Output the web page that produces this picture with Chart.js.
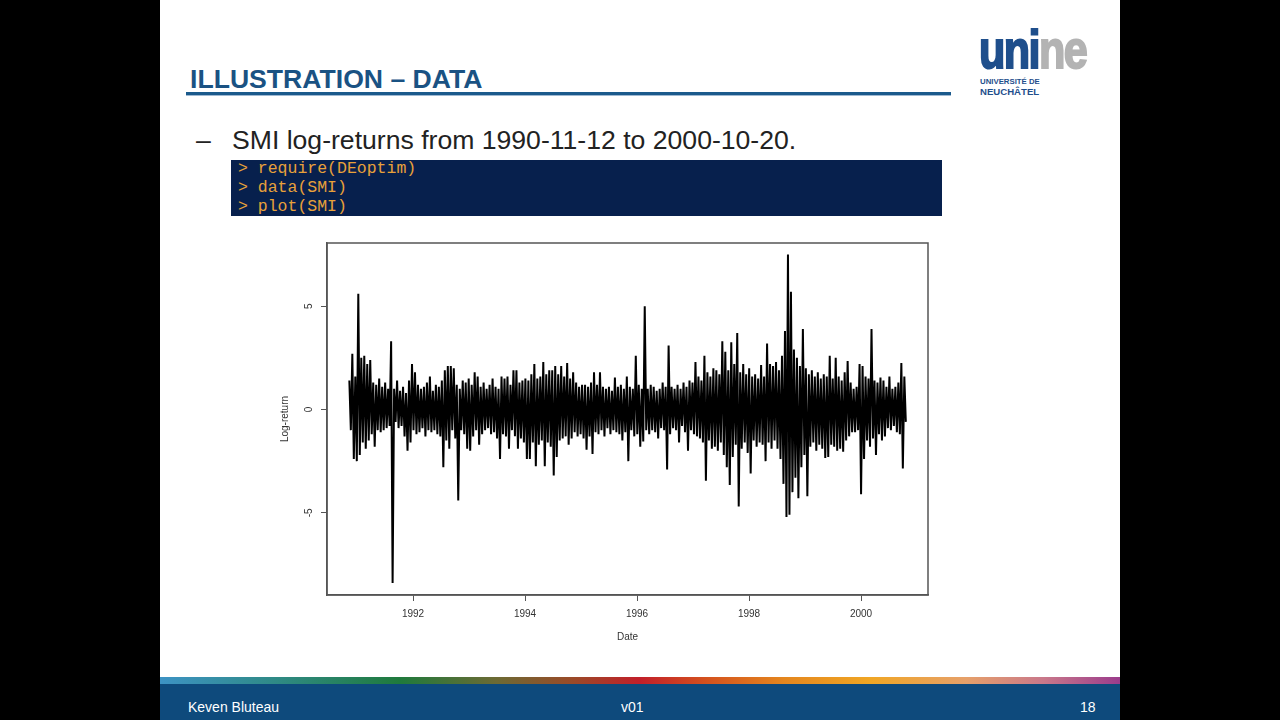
<!DOCTYPE html>
<html>
<head>
<meta charset="utf-8">
<script src="https://cdn.jsdelivr.net/npm/chart.js@4.4.0/dist/chart.umd.min.js"></script>
<style>
  body { margin: 0; width: 1280px; height: 720px; background: #000; overflow: hidden; font-family: "Liberation Sans", Arial, sans-serif; }
  .slide { position: absolute; left: 160px; top: 0; width: 960px; height: 720px; background: #fff; }
  .abs { position: absolute; white-space: nowrap; }
  #title { left: 190px; top: 66px; font-size: 26.6px; line-height: 26px; font-weight: bold; color: #1a5283; }
  #rule { left: 186px; top: 92px; width: 765px; height: 3px; background: #1b5a8c; }
  #rule2 { left: 186px; top: 95px; width: 765px; height: 1px; background: #9fb9d2; }
  #logo { left: 979px; top: 22px; font-size: 54px; line-height: 54px; font-weight: bold; letter-spacing: -2px; transform: scaleX(0.8); transform-origin: left top; -webkit-text-stroke: 2px; }
  #logo .a { color: #1f4f8c; -webkit-text-stroke-color: #1f4f8c; }
  #logo .b { color: #b3b3b3; -webkit-text-stroke-color: #b3b3b3; }
  #uni1 { left: 980px; top: 78px; font-size: 7.8px; line-height: 8px; font-weight: bold; color: #1f4f8c; }
  #uni2 { left: 980px; top: 87px; font-size: 9.6px; line-height: 10px; font-weight: bold; color: #1f4f8c; }
  #dash { left: 196px; top: 127px; font-size: 26.6px; line-height: 26px; color: #222; }
  #bullet { left: 232px; top: 127px; font-size: 26.6px; line-height: 26px; color: #222; }
  #code { left: 231px; top: 160px; width: 711px; height: 56px; background: #07204d; }
  #code div { position: absolute; left: 7px; font-family: "Liberation Mono", "DejaVu Sans Mono", monospace; font-size: 16.5px; line-height: 19px; color: #e8a13a; white-space: pre; }
  #stripe { left: 160px; top: 677px; width: 960px; height: 7px;
    background: linear-gradient(to right, #3d93c4 0%, #2f8a86 12%, #1f7a3c 25%, #6c6a34 35%, #9a4a28 43%, #c21f2a 50%, #d4521e 57%, #e4861e 65%, #f0a624 74%, #e6a06a 84%, #c9788a 92%, #9b3c8c 100%); }
  #footer { left: 160px; top: 684px; width: 960px; height: 36px; background: #0e4a7c; }
  .ft { top: 700px; font-size: 14px; line-height: 14px; color: #fff; }
  #chartBox { position: absolute; left: 262px; top: 230px; width: 676px; height: 420px; }
</style>
</head>
<body>
<div class="slide"></div>
<div class="abs" id="title">ILLUSTRATION – DATA</div>
<div class="abs" id="rule"></div>
<div class="abs" id="rule2"></div>
<div class="abs" id="logo"><span class="a">uni</span><span class="b">ne</span></div>
<div class="abs" id="uni1">UNIVERSITÉ DE</div>
<div class="abs" id="uni2">NEUCHÂTEL</div>
<div class="abs" id="dash">–</div>
<div class="abs" id="bullet">SMI log-returns from 1990-11-12 to 2000-10-20.</div>
<div class="abs" id="code">
  <div style="top:-1px">&gt; require(DEoptim)</div>
  <div style="top:18px">&gt; data(SMI)</div>
  <div style="top:37px">&gt; plot(SMI)</div>
</div>
<div class="abs" id="stripe"></div>
<div class="abs" id="footer"></div>
<div class="abs ft" style="left:188px">Keven Bluteau</div>
<div class="abs ft" style="left:621px">v01</div>
<div class="abs ft" style="left:1080px">18</div>
<div id="chartBox"><canvas id="chart"></canvas></div>

<script>
// SMI log-returns, 1990-11-12 .. 2000-10-20, read off the picture as
// successive daily highs / lows of the trace (in %)
const startYear = 1990.863;
const endYear = 2000.800;
const xTicks = [1992, 1994, 1996, 1998, 2000];
const yTicks = [-5, 0, 5];

const highs = [
  1.4, 2.7, 1.6, 5.6, 2.5, 2.6, 2.2, 2.4, 1.3, 1.2,
  1.5, 1.1, 1.3, 1.0, 3.3, 1.0, 1.4, 0.9, 1.1, 0.8,
  1.4, 2.2, 1.8, 1.2, 1.0, 1.1, 1.3, 1.6, 0.9, 1.2,
  1.1, 1.4, 1.9, 2.1, 2.1, 2.0, 1.2, 1.0, 1.4, 1.3,
  1.5, 1.2, 1.8, 1.6, 1.1, 1.3, 1.0, 1.2, 1.5, 1.1,
  1.0, 1.6, 1.5, 1.6, 1.2, 1.9, 1.9, 1.3, 1.4, 1.5,
  1.4, 1.7, 2.2, 1.5, 1.6, 2.3, 1.7, 1.9, 1.9, 2.1,
  1.7, 2.1, 1.6, 2.25, 1.5, 1.8, 1.3, 1.1, 1.2, 1.2,
  1.1, 1.3, 1.8, 1.2, 1.8, 1.1, 1.0, 1.1, 0.9, 1.55,
  1.1, 1.2, 1.0, 1.6, 1.1, 1.0, 2.6, 1.2, 1.0, 5.0,
  1.0, 1.2, 1.1, 0.9, 1.0, 1.3, 1.1, 3.1, 1.1, 1.0,
  1.2, 1.0, 1.3, 1.1, 1.4, 1.3, 2.3, 1.6, 1.4, 2.6,
  1.8, 1.6, 2.0, 1.9, 1.7, 3.3, 2.8, 1.9, 3.25, 2.2,
  3.7, 1.8, 2.2, 1.7, 2.0, 1.6, 1.7, 1.5, 2.15, 1.6,
  3.2, 2.2, 2.1, 2.3, 1.9, 2.6, 3.8, 7.5, 5.7, 2.9,
  2.5, 2.1, 3.9, 2.0, 1.7, 1.9, 1.6, 1.8, 1.5, 1.7,
  1.6, 2.6, 1.5, 2.5, 1.6, 1.4, 1.8, 2.35, 1.3, 1.0,
  1.1, 2.2, 2.1, 1.6, 1.5, 3.9, 1.4, 1.3, 1.55, 1.4,
  1.1, 1.6, 1.0, 1.1, 1.3, 2.25, 1.6
];

const lows = [
  -1.0, -2.4, -2.5, -2.2, -1.6, -1.9, -1.5, -1.2, -1.8, -1.0,
  -1.1, -1.0, -0.9, -0.8, -8.4, -0.6, -0.9, -0.8, -1.3, -2.0,
  -1.6, -1.0, -1.2, -1.1, -0.9, -1.3, -1.0, -1.1, -1.0, -1.2,
  -1.3, -2.8, -1.5, -1.9, -1.0, -1.4, -4.4, -1.0, -1.2, -1.9,
  -2.0, -1.3, -1.0, -1.7, -1.2, -1.0, -0.9, -1.2, -1.1, -1.4,
  -2.4, -1.2, -1.3, -1.9, -1.0, -1.3, -1.9, -1.4, -1.6, -2.4,
  -2.4, -1.6, -2.75, -1.7, -1.5, -2.75, -1.6, -1.8, -3.2, -2.3,
  -1.5, -1.4, -1.3, -1.7, -1.4, -1.1, -1.3, -1.2, -1.4, -1.95,
  -1.3, -2.15, -1.1, -1.2, -1.0, -1.3, -0.9, -1.2, -1.0, -1.1,
  -1.2, -1.5, -1.1, -2.5, -1.0, -1.3, -1.2, -1.8, -1.55, -1.0,
  -1.2, -1.0, -1.1, -1.4, -0.9, -1.0, -2.9, -1.2, -0.9, -1.0,
  -1.6, -0.8, -1.1, -2.0, -1.0, -1.2, -1.3, -1.4, -1.6, -3.45,
  -1.5, -1.9, -1.8, -2.0, -1.6, -2.2, -2.8, -3.65, -2.3, -1.7,
  -4.7, -1.9, -1.6, -2.1, -3.1, -1.5, -1.8, -1.6, -1.7, -2.5,
  -1.6, -1.9, -1.5, -1.9, -2.4, -3.6, -5.2, -5.1, -4.0, -3.3,
  -4.3, -2.8, -2.2, -4.2, -1.8, -1.6, -2.0, -1.7, -1.9, -2.35,
  -2.3, -1.7, -1.8, -2.0, -1.9, -2.05, -1.5, -1.3, -1.1, -1.1,
  -1.0, -4.1, -2.4, -1.5, -1.8, -1.4, -2.2, -1.2, -1.5, -1.3,
  -0.9, -1.0, -0.8, -1.1, -1.2, -2.85, -0.6
];

const step = (endYear - startYear) / (highs.length - 0.5);
const points = [];
for (let i = 0; i < highs.length; i++) {
  const t = startYear + i * step;
  points.push({ x: t, y: highs[i] });
  points.push({ x: t + step / 2, y: lows[i] });
}

const axisGrey = "#555";
const labelFont = { family: "'Liberation Sans', Arial, sans-serif", size: 10 };

// R-style box round the plotting region
const boxPlugin = {
  id: "box",
  afterDraw(chart) {
    const a = chart.chartArea;
    const ctx = chart.ctx;
    ctx.save();
    ctx.strokeStyle = axisGrey;
    ctx.lineWidth = 1.5;
    ctx.strokeRect(a.left, a.top, a.right - a.left, a.bottom - a.top);
    ctx.restore();
  }
};

new Chart(document.getElementById("chart"), {
  type: "line",
  data: {
    datasets: [{
      data: points,
      borderColor: "#000",
      borderWidth: 2,
      borderJoinStyle: "bevel",
      pointRadius: 0,
      tension: 0,
      fill: false
    }]
  },
  options: {
    responsive: true,
    maintainAspectRatio: false,
    animation: false,
    devicePixelRatio: 1,
    layout: { padding: { top: 9, right: 10, left: 0, bottom: 0 } },
    plugins: { legend: { display: false }, tooltip: { enabled: false } },
    scales: {
      x: {
        type: "linear",
        min: 1990.464,
        max: 2001.196,
        afterBuildTicks: function (scale) { scale.ticks = xTicks.map(v => ({ value: v })); },
        afterFit: function (scale) { scale.height = 55; },
        grid: { drawOnChartArea: false, drawTicks: true, tickLength: 6, tickColor: axisGrey, tickWidth: 1 },
        border: { display: true, color: axisGrey, width: 1.5 },
        ticks: { color: "#333", font: labelFont, padding: 7, maxRotation: 0, callback: v => String(v) },
        title: { display: true, text: "Date", color: "#333", font: labelFont, padding: { top: 0, bottom: 7 } }
      },
      y: {
        type: "linear",
        min: -8.98,
        max: 8.06,
        afterBuildTicks: function (scale) { scale.ticks = yTicks.map(v => ({ value: v })); },
        afterFit: function (scale) { scale.width = 65; },
        grid: { drawOnChartArea: false, drawTicks: true, tickLength: 6, tickColor: axisGrey, tickWidth: 1 },
        border: { display: true, color: axisGrey, width: 1.5 },
        ticks: { color: "#333", font: labelFont, padding: 7, minRotation: 90, maxRotation: 90, crossAlign: "center", callback: v => String(v) },
        title: { display: true, text: "Log-return", color: "#333", font: labelFont, padding: { top: 17, bottom: 0 } }
      }
    }
  },
  plugins: [boxPlugin]
});
</script>
</body>
</html>
